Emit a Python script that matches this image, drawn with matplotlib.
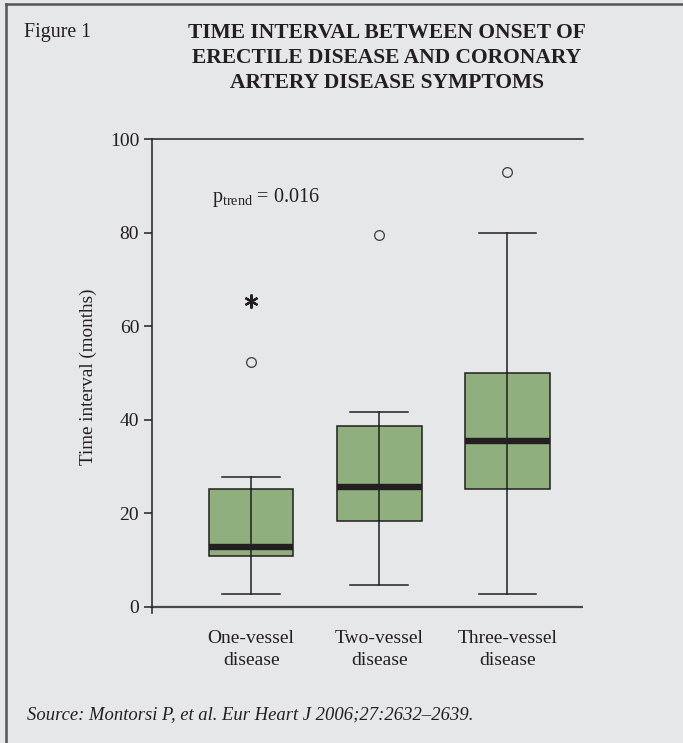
import matplotlib
matplotlib.use("Agg")
import matplotlib.pyplot as plt
from matplotlib.lines import Line2D

# data (months)
groups = ["One-vessel\ndisease", "Two-vessel\ndisease", "Three-vessel\ndisease"]
whisker_low = [2.8, 4.6, 2.8]
q1 = [10.8, 18.4, 25.3]
median = [12.8, 25.7, 35.4]
q3 = [25.1, 38.7, 50.1]
whisker_high = [27.7, 41.7, 79.9]
outliers = [[52.3], [79.6], [93.0]]
extremes = [[65.4], [], []]

bg = "#e6e7e9"
green = "#8fb07e"
ink = "#231f20"

plt.rcParams["font.family"] = ["Liberation Serif", "DejaVu Serif"]
plt.rcParams["mathtext.fontset"] = "custom"
plt.rcParams["mathtext.rm"] = "Liberation Serif"
plt.rcParams["mathtext.it"] = "Liberation Serif:italic"

fig = plt.figure(figsize=(6.83, 7.43), dpi=100, facecolor=bg)
ax = fig.add_axes([0.2221, 0.1745, 0.6315, 0.638])
ax.set_facecolor(bg)

stats = []
for i in range(len(groups)):
    stats.append(dict(med=median[i], q1=q1[i], q3=q3[i],
                      whislo=whisker_low[i], whishi=whisker_high[i],
                      fliers=outliers[i]))

pos = [1, 2, 3]
ax.bxp(stats, positions=pos, widths=0.66, patch_artist=True,
       showcaps=True, showfliers=True,
       boxprops=dict(facecolor=green, edgecolor=ink, linewidth=1.1),
       medianprops=dict(color=ink, linewidth=4.6, solid_capstyle="butt"),
       whiskerprops=dict(color=ink, linewidth=1.1),
       capprops=dict(color=ink, linewidth=1.1),
       capwidths=0.45,
       flierprops=dict(marker="o", markersize=7, markerfacecolor="none",
                       markeredgecolor="#3a3a3a", markeredgewidth=0.9))

# whisker line runs through the box in the original (SPSS style)
for i, p in enumerate(pos):
    ax.plot([p, p], [q1[i], q3[i]], color=ink, lw=1.1, zorder=3)
    for v in extremes[i]:
        ax.plot(p, v, marker=(6, 2, 0), markersize=10, color=ink,
                markeredgewidth=1.6, linestyle="none")

ax.set_xlim(0.224, 3.59)
ax.set_ylim(-1.4, 100)
ax.set_yticks([0, 20, 40, 60, 80, 100])
ax.set_xticks(pos)
ax.set_xticklabels(groups, fontsize=14, linespacing=1.4)
ax.tick_params(axis="x", length=0, pad=12, colors=ink)
ax.tick_params(axis="y", length=6, width=1.1, labelsize=14, colors=ink, pad=3)

ax.spines["right"].set_visible(False)
ax.spines["bottom"].set_visible(False)
ax.spines["left"].set_color(ink)
ax.spines["left"].set_linewidth(1.1)
ax.spines["top"].set_color(ink)
ax.spines["top"].set_linewidth(1.1)
ax.axhline(0, color="#4a4a4a", lw=1.6, zorder=1)

ax.set_ylabel("Time interval (months)", fontsize=13.8, color=ink, labelpad=9)

ax.text(0.693, 86.6, r"$\mathrm{p}_{\mathrm{trend}}$ = 0.016", fontsize=14.5,
        color=ink, va="baseline", ha="left")

# header
fig.text(24 / 683, 1 - 32 / 743, "Figure 1", fontsize=14.4, color=ink,
         va="center", ha="left")
fig.text(387 / 683, 1 - 58 / 743,
         "TIME INTERVAL BETWEEN ONSET OF\nERECTILE DISEASE AND CORONARY\nARTERY DISEASE SYMPTOMS",
         fontsize=15.5, fontweight="bold", color=ink, ha="center", va="center",
         linespacing=1.36)

fig.text(27 / 683, 1 - 715 / 743,
         "Source: Montorsi P, et al. Eur Heart J 2006;27:2632\u20132639.",
         fontsize=13.4, style="italic", color=ink, va="center", ha="left")

# frame on the left and top edges
fig.add_artist(Line2D([6 / 683, 6 / 683], [0, 1 - 4 / 743],
                      transform=fig.transFigure, color="#555555", lw=1.8))
fig.add_artist(Line2D([6 / 683, 1], [1 - 4 / 743, 1 - 4 / 743],
                      transform=fig.transFigure, color="#555555", lw=1.8))

fig.savefig("out.png", dpi=100, facecolor=bg)
